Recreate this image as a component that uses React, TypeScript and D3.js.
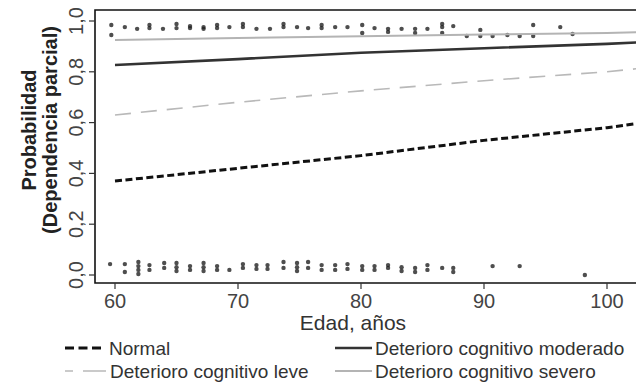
import React from "react";
import * as d3 from "d3";

// ---- Data ----
const xTicks = [60, 70, 80, 90, 100];
const yTicks = [0, 0.2, 0.4, 0.6, 0.8, 1.0];
const yTickLabels = ["0,0", "0,2", "0,4", "0,6", "0,8", "1,0"];

const curveAges = [60, 70, 80, 90, 100, 103];
const normalVals = [0.37, 0.42, 0.47, 0.53, 0.58, 0.6];
const leveVals = [0.63, 0.68, 0.725, 0.765, 0.8, 0.815];
const moderadoVals = [0.827, 0.85, 0.875, 0.893, 0.91, 0.917];
const severoVals = [0.925, 0.933, 0.94, 0.947, 0.953, 0.956];

const topAges = [59.7, 59.7, 60.8, 61.8, 62.8, 62.8, 63.9, 65.0, 65.0, 66.1, 66.1, 67.2, 67.2, 68.3, 68.3, 69.3, 70.4, 70.4, 71.5, 72.6, 73.7, 73.7, 74.8, 75.7, 76.8, 76.8, 77.9, 78.9, 80.1, 80.1, 81.1, 82.2, 82.2, 83.3, 84.4, 84.4, 85.4, 86.6, 86.6, 86.6, 87.5, 88.6, 89.7, 89.7, 90.7, 91.9, 92.9, 94.0, 94.0, 96.2, 97.2];
const topVals = [0.984, 0.945, 0.976, 0.969, 0.984, 0.972, 0.969, 0.988, 0.972, 0.98, 0.972, 0.976, 0.969, 0.984, 0.972, 0.976, 0.988, 0.976, 0.969, 0.969, 0.988, 0.976, 0.976, 0.972, 0.984, 0.972, 0.976, 0.976, 0.984, 0.953, 0.972, 0.969, 0.957, 0.969, 0.969, 0.953, 0.969, 0.988, 0.976, 0.953, 0.98, 0.941, 0.965, 0.941, 0.941, 0.945, 0.941, 0.984, 0.941, 0.976, 0.949];

const botAges = [59.6, 60.8, 60.8, 61.9, 61.9, 61.9, 61.9, 62.8, 62.8, 64.0, 64.0, 65.0, 65.0, 65.0, 66.1, 66.1, 67.2, 67.2, 67.2, 68.3, 68.3, 69.3, 70.4, 70.4, 71.5, 71.5, 72.4, 72.4, 73.7, 73.7, 74.8, 74.8, 74.8, 75.7, 75.7, 76.8, 76.8, 77.9, 77.9, 78.9, 78.9, 80.1, 80.1, 81.1, 81.1, 82.2, 82.2, 83.3, 83.3, 84.4, 84.4, 85.4, 85.4, 86.6, 87.5, 87.5, 90.7, 92.9, 98.2];
const botVals = [0.043, 0.043, 0.012, 0.051, 0.035, 0.02, 0.004, 0.039, 0.02, 0.047, 0.028, 0.047, 0.031, 0.016, 0.035, 0.02, 0.047, 0.031, 0.016, 0.035, 0.02, 0.02, 0.043, 0.028, 0.039, 0.024, 0.039, 0.024, 0.051, 0.028, 0.047, 0.031, 0.016, 0.051, 0.028, 0.039, 0.02, 0.039, 0.02, 0.043, 0.024, 0.035, 0.02, 0.035, 0.02, 0.039, 0.028, 0.031, 0.016, 0.028, 0.012, 0.039, 0.02, 0.028, 0.028, 0.012, 0.035, 0.035, 0.0];

const legendLabels = ["Normal", "Deterioro cognitivo moderado", "Deterioro cognitivo leve", "Deterioro cognitivo severo"];

const FONT = "'Liberation Sans', Arial, sans-serif";

export default function App() {
  const W = 636, H = 388;
  const x = d3.scaleLinear().domain([60, 100]).range([115, 607]);
  const y = d3.scaleLinear().domain([0, 1]).range([275, 21]);
  const boxL = 95, boxT = 10, boxB = 283, boxR = 642;

  const line = d3.line<[number, number]>().x((d) => x(d[0])).y((d) => y(d[1]));
  const mk = (vals: number[]) => line(curveAges.map((a, i) => [a, vals[i]] as [number, number])) || "";

  const series = [
    { vals: severoVals, stroke: "#b4b4b4", width: 2, dash: "" },
    { vals: leveVals, stroke: "#b9b9b9", width: 1.6, dash: "16,10" },
    { vals: moderadoVals, stroke: "#333", width: 2.6, dash: "" },
    { vals: normalVals, stroke: "#111", width: 3, dash: "7,3.5" },
  ];

  return (
    <svg width={W} height={H} style={{ position: "absolute", left: 0, top: 0, background: "#fff" }} fontFamily={FONT}>
      <defs>
        <clipPath id="plotclip">
          <rect x={boxL} y={boxT} width={boxR - boxL} height={boxB - boxT} />
        </clipPath>
      </defs>
      <rect width={W} height={H} fill="#fff" />
      <g clipPath="url(#plotclip)">
        {topAges.map((a, i) => (
          <circle key={"t" + i} cx={x(a)} cy={y(topVals[i])} r={2.2} fill="#222" fillOpacity={0.8} />
        ))}
        {botAges.map((a, i) => (
          <circle key={"b" + i} cx={x(a)} cy={y(botVals[i])} r={2.2} fill="#222" fillOpacity={0.8} />
        ))}
        {series.map((s, i) => (
          <path key={i} d={mk(s.vals)} fill="none" stroke={s.stroke} strokeWidth={s.width} strokeDasharray={s.dash || undefined} />
        ))}
      </g>
      {/* box */}
      <path d={`M${boxR},${boxT}H${boxL}V${boxB}H${boxR}`} fill="none" stroke="#111" strokeWidth={1.6} />
      {/* y ticks */}
      {yTicks.map((t, i) => (
        <g key={"y" + i}>
          <line x1={boxL - 6} x2={boxL} y1={y(t)} y2={y(t)} stroke="#333" strokeWidth={1.2} />
          <text transform={`translate(83,${y(t)}) rotate(-90)`} textAnchor="middle" fontSize={20} fill="#444">
            {yTickLabels[i]}
          </text>
        </g>
      ))}
      {/* x ticks */}
      {xTicks.map((t) => (
        <g key={"x" + t}>
          <line x1={x(t)} x2={x(t)} y1={boxB} y2={boxB + 6} stroke="#333" strokeWidth={1.2} />
          <text x={x(t)} y={308} textAnchor="middle" fontSize={20} fill="#444">
            {t}
          </text>
        </g>
      ))}
      <text x={353} y={330} textAnchor="middle" fontSize={21} fill="#333">Edad, años</text>
      <text transform="translate(36,130) rotate(-90)" textAnchor="middle" fontSize={20} fontWeight="bold" fill="#222">Probabilidad</text>
      <text transform="translate(57,130) rotate(-90)" textAnchor="middle" fontSize={20} fontWeight="bold" fill="#222">(Dependencia parcial)</text>
      {/* legend */}
      <g fontSize={19} fill="#333">
        <line x1={65} x2={105} y1={348} y2={348} stroke="#111" strokeWidth={3} strokeDasharray="9,4.5" />
        <text x={109} y={355}>{legendLabels[0]}</text>
        <line x1={335} x2={372} y1={348} y2={348} stroke="#333" strokeWidth={2.6} />
        <text x={375} y={355}>{legendLabels[1]}</text>
        <line x1={65} x2={106} y1={371} y2={371} stroke="#b9b9b9" strokeWidth={1.6} strokeDasharray="8,10,23,0" />
        <text x={110} y={378}>{legendLabels[2]}</text>
        <line x1={335} x2={372} y1={371} y2={371} stroke="#b4b4b4" strokeWidth={2} />
        <text x={375} y={378}>{legendLabels[3]}</text>
      </g>
    </svg>
  );
}
